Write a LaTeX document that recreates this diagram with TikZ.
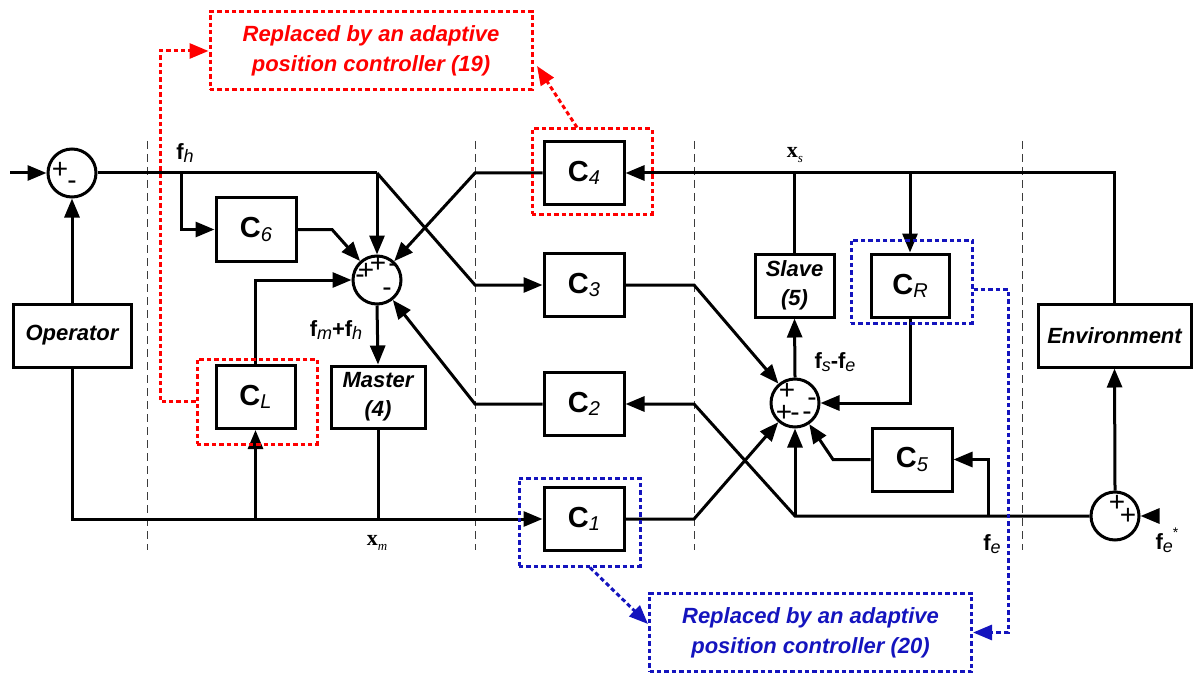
\documentclass[tikz,border=0pt]{standalone}
\usepackage{fontspec}
\setmainfont{Liberation Sans}
\newfontfamily\serifx{Liberation Serif}
\usetikzlibrary{arrows.meta,calc}

\definecolor{notered}{RGB}{255,0,0}
\definecolor{noteblue}{RGB}{20,20,190}
\definecolor{sepgray}{RGB}{60,60,60}

% block label C with an italic index
\newcommand\blkC[1]{{\fontsize{14.5}{14.5}\selectfont\bfseries C}\raisebox{-1.6pt}{\fontsize{10}{10}\selectfont\itshape #1}}
% force symbol f with an italic index
\newcommand\fvec[1]{{\fontsize{11}{11}\selectfont\bfseries f}\raisebox{-1.5pt}{\fontsize{9}{9}\selectfont\itshape #1}}
% position symbol x with an italic index
\newcommand\xvec[1]{{\serifx\fontsize{11}{11}\selectfont\bfseries x}\raisebox{-2.2pt}{\serifx\fontsize{6.5}{6.5}\selectfont\itshape #1}}

\begin{document}
\begin{tikzpicture}[x=0.5pt,y=-0.5pt,
  blk/.style={draw, line width=1.5pt, minimum width=40pt, minimum height=31.5pt, inner sep=0pt},
  txtblk/.style={blk, font=\fontsize{11}{14.5}\selectfont\bfseries\itshape, align=center},
  sum/.style={draw, circle, line width=1.5pt, minimum size=24pt, inner sep=0pt},
  sgn/.style={inner sep=0pt, font=\fontsize{14}{14}\selectfont},
  lbl/.style={inner sep=0pt},
  wire/.style={line width=1.5pt},
  tip/.style={-{Triangle[length=9.5pt,width=7.5pt]}},
  arr/.style={wire, tip},
  sepline/.style={line width=0.5pt, draw=sepgray, dash pattern=on 4pt off 2.5pt},
  dotted line/.style={line width=1.5pt, dash pattern=on 2.2pt off 1.5pt},
  rbox/.style={draw=notered, dotted line, minimum width=60pt, minimum height=42.5pt, inner sep=0pt},
  bbox/.style={draw=noteblue, dotted line, minimum width=60.5pt, inner sep=0pt},
  note/.style={dotted line, minimum width=161pt, minimum height=39pt, inner sep=0pt,
    align=center, font=\fontsize{11}{15}\selectfont\bfseries\itshape},
  rarr/.style={draw=notered, dotted line, tip},
  barr/.style={draw=noteblue, dotted line, tip},
]
\useasboundingbox (0,0) rectangle (1197,679);

% section separators
\foreach \sx in {147,475,694,1022} \draw[sepline] (\sx,141) -- (\sx,550);

% summing junctions
\node[sum] (S0) at (72,173) {};
\node[sum] (S1) at (377,280) {};
\node[sum] (S2) at (795,403) {};
\node[sum] (S3) at (1115,516) {};

% signs
\node[sgn] (s0a) at (60,170) {+};
\node[sgn] (s0b) at (72,185) {-};
\node[sgn] (s1a) at (366,271) {+};
\node[sgn] (s1b) at (378,264) {+};
\node[sgn] (s1c) at (393,268) {-};
\node[sgn] (s1d) at (360,279) {-};
\node[sgn] (s1e) at (387,292) {-};
\node[sgn] (s2a) at (787,391) {+};
\node[sgn] (s2b) at (812,402) {-};
\node[sgn] (s2c) at (784,413) {+};
\node[sgn] (s2d) at (795,417) {-};
\node[sgn] (s2e) at (807,416) {-};
\node[sgn] (s3a) at (1117,503) {+};
\node[sgn] (s3b) at (1128,516) {+};

% blocks
\node[txtblk, minimum width=59pt] (op) at (72,335.5) {Operator};
\node[blk] (C6) at (256,229.5) {\blkC{6}};
\node[blk, minimum width=39.5pt] (CL) at (255.5,397) {\blkC{L}};
\node[txtblk, minimum width=47pt, minimum height=31pt] (Master) at (378,397) {Master\\(4)};
\node[blk] (C4) at (584,173) {\blkC{4}};
\node[blk] (C3) at (584,285) {\blkC{3}};
\node[blk] (C2) at (584,404) {\blkC{2}};
\node[blk] (C1) at (584,519) {\blkC{1}};
\node[txtblk, minimum width=39.5pt] (Slave) at (794.5,285.5) {Slave\\(5)};
\node[blk, minimum width=39pt] (CR) at (910,285.5) {\blkC{R}};
\node[blk] (C5) at (912,459.5) {\blkC{5}};
\node[txtblk, minimum width=76.5pt] (Env) at (1114.5,335.5) {Environment};

% signal labels
\node[lbl] (lfh) at (185,153) {\fvec{h}};
\node[lbl] (lfmh) at (336,330) {\fvec{m}{\fontsize{11}{11}\selectfont\bfseries +}\fvec{h}};
\node[lbl] (lxm) at (377,543) {\xvec{m}};
\node[lbl] (lxs) at (795,155) {\xvec{s}};
\node[lbl] (lfse) at (835,362) {\fvec{s}{\fontsize{11}{11}\selectfont\bfseries -}\fvec{e}};
\node[lbl] (lfe) at (992,544) {\fvec{e}};
\node[lbl] (lfes) at (1167,540) {\fvec{e}\raisebox{6pt}{\fontsize{7}{7}\selectfont *}};

% branch and bend points
\coordinate (in0) at (10,173);
\coordinate (jtop) at (377,173);
\coordinate (jfh) at (181,173);
\coordinate (k6) at (332,229.5);
\coordinate (k4) at (475,173);
\coordinate (k3) at (475,285);
\coordinate (k2) at (475,404);
\coordinate (jxm) at (255.5,519);
\coordinate (kc3) at (694,285);
\coordinate (kc1) at (694,519);
\coordinate (kc2) at (694,404);
\coordinate (jbot) at (795,516);
\coordinate (j5) at (988,516);
\coordinate (k5) at (833,459.5);
\coordinate (jcr) at (910,173);
\coordinate (in3) at (1157,516);

% master side
\draw[arr] (in0) -- (S0.west);
\draw[arr] (op.north) -- (S0.south);
\draw[arr] (op.south) |- (C1.west);
\draw[wire] (S0.east) -- (jtop);
\draw[arr] (jtop) -- (S1.north);
\draw[arr] (jtop) -- (k3) -- (C3.west);
\draw[arr] (jfh) |- (C6.west);
\draw[arr] (C6.east) -- (k6) -- (S1);
\draw[arr] (C4.west) -- (k4) -- (S1);
\draw[arr] (C2.west) -- (k2) -- (S1);
\draw[arr] (CL.north) |- (S1.west);
\draw[arr] (S1.south) -- (Master.north);
\draw[wire] (Master.south) -- (Master.south |- C1.west);
\draw[arr] (jxm) -- (CL.south);

% slave side
\draw[arr] (Env.north) |- (C4.east);
\draw[wire] (Slave.north) -- (Slave.north |- C4.east);
\draw[arr] (jcr) -- (CR.north);
\draw[arr] (CR.south) |- (S2.east);
\draw[arr] (S2.north) -- (Slave.south);
\draw[arr] (C3.east) -- (kc3) -- (S2);
\draw[arr] (C1.east) -- (kc1) -- (S2);
\draw[arr] (S3.west) -- (jbot) -- (kc2) -- (C2.east);
\draw[arr] (jbot) -- (S2.south);
\draw[arr] (j5) |- (C5.east);
\draw[arr] (C5.west) -- (k5) -- (S2);
\draw[arr] (S3.north) -- (Env.south);
\draw[arr] (in3) -- (S3.east);

% adaptive replacement notes
\node[rbox] (C4r) at (592,171.5) {};
\node[rbox] (CLr) at (257,401.5) {};
\node[note, draw=notered, text=notered] (n19) at (371,51) {Replaced by an adaptive\\position controller (19)};
\coordinate (n19tip) at (537,66);
\draw[rarr] (CLr.west) -- (160,401.5) |- (n19.west);
\draw[rarr] ([xshift=-7.5pt]C4r.north) -- (n19tip);

\node[bbox, minimum height=44pt] (C1b) at (579.5,522) {};
\node[bbox, minimum height=41.5pt] (CRb) at (911.5,281.5) {};
\node[note, draw=noteblue, text=noteblue] (n20) at (810.5,632.5) {Replaced by an adaptive\\position controller (20)};
\coordinate (n20tip) at (648,624);
\draw[barr] ([xshift=5.25pt]C1b.south) -- (n20tip);
\draw[barr] ([yshift=-4pt]CRb.east) -- (1008,289.5) |- (n20.east);
\end{tikzpicture}
\end{document}
